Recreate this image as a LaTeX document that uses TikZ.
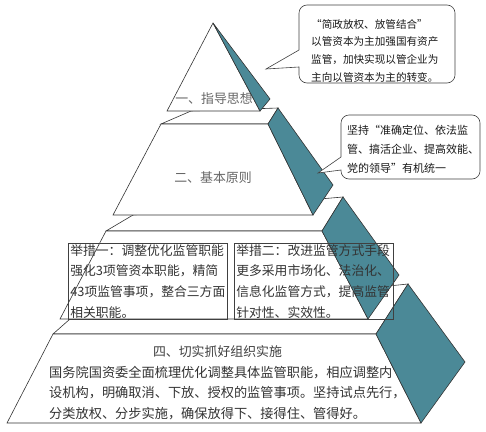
\documentclass[tikz,border=0pt]{standalone}
\usepackage{fontspec}
\usepackage{tikz}
\newfontfamily\cjk{Noto Sans CJK SC}
\definecolor{sidecol}{RGB}{75,137,151}

\begin{document}
\begin{tikzpicture}[x=1pt,y=-1pt]
\tikzstyle{every node}=[inner sep=0pt]
\tikzstyle{front}=[draw=black!80,fill=white,line width=.6pt]
\tikzstyle{side}=[draw=black!80,fill=sidecol,line width=.6pt]
\tikzstyle{title}=[text=black!60,font=\cjk\fontsize{12.9}{15}\selectfont]
\tikzstyle{box}=[draw=black!75,line width=.6pt,anchor=north west,align=left,
  text width=155pt,inner xsep=2pt,minimum height=76pt,text=black!80,
  font=\cjk\fontsize{12.8}{20.7}\selectfont]
\tikzstyle{note}=[draw=black!75,fill=white,line width=.6pt]
\tikzstyle{notetext}=[anchor=north west,align=left,text=black!90]
\useasboundingbox (0,0) rectangle (486,431);

% fourth level
\draw[front] (53,334) -- (70,319) -- (408,284) -- (376,334) -- cycle;
\draw[front] (53,334) -- (376,334) -- (421,423) -- (7,423) -- cycle;
\draw[side] (376,334) -- (408,284) -- (465,362) -- (421,423) -- cycle;
\node[title,text=black!75] (lv4) at (217.5,352) {四、切实抓好组织实施};
\node[anchor=north west,align=left,text=black!80,
  font=\cjk\fontsize{13.2}{20.5}\selectfont] (lv4txt) at (49,366)
  {国务院国资委全面梳理优化调整具体监管职能，相应调整内\\
   设机构，明确取消、下放、授权的监管事项。坚持试点先行，\\
   分类放权、分步实施，确保放得下、接得住、管得好。};

% third level
\draw[front] (106,231) -- (133,215) -- (343,197) -- (322,231) -- cycle;
\draw[front] (106,231) -- (322,231) -- (368,319) -- (60,319) -- cycle;
\draw[side] (322,231) -- (343,197) -- (399,275) -- (368,319) -- cycle;
\node[box] (step1) at (68,243)
  {举措一：调整优化监管职能\\强化3项管资本职能，精简\\43项监管事项，整合三方面\\相关职能。};
\node[box] (step2) at (234,243)
  {举措二：改进监管方式手段\\更多采用市场化、法治化、\\信息化监管方式，提高监管\\针对性、实效性。};

% second level
\draw[front] (161,124) -- (191,111) -- (278,108) -- (268,124) -- cycle;
\draw[front] (161,124) -- (268,124) -- (313,215) -- (113,215) -- cycle;
\draw[side] (268,124) -- (278,108) -- (333,185) -- (313,215) -- cycle;
\node[title] (lv2) at (213,178) {二、基本原则};

% first level
\draw[front] (213,23) -- (260,111) -- (167,111) -- cycle;
\node[title] (lv1) at (214,99) {一、指导思想};
\draw[side] (213,23) -- (270,99) -- (260,111) -- cycle;

% callouts
\coordinate (tip1) at (266,69);
\coordinate (tip2) at (318,173);
\draw[note] (tip1) -- (299,50) [rounded corners=8pt] -- (299,5) -- (455,5)
  -- (455,83) -- (299,83) [sharp corners] -- (299,67) -- cycle;
\node[notetext,font=\cjk\fontsize{10.6}{17.8}\selectfont] (note1) at (311,19)
  {“简政放权、放管结合”\\以管资本为主加强国有资产\\监管，加快实现以管企业为\\主向以管资本为主的转变。};
\draw[note] (tip2) -- (341,157) [rounded corners=8pt] -- (341,115) -- (480,115)
  -- (480,179) -- (341,179) [sharp corners] -- (341,170) -- cycle;
\node[notetext,font=\cjk\fontsize{11}{19}\selectfont] (note2) at (347,125)
  {坚持“准确定位、依法监\\管、搞活企业、提高效能、\\党的领导”有机统一};
\end{tikzpicture}
\end{document}
